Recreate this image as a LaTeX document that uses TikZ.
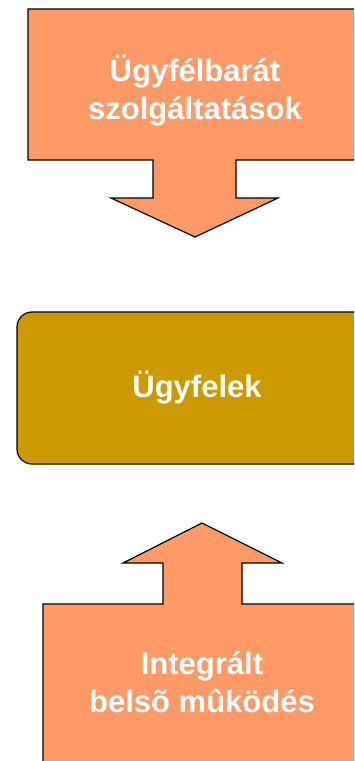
\documentclass[tikz,border=0pt]{standalone}
\usepackage{fontspec}
\setmainfont{Liberation Sans}
\usepackage{tikz}

\definecolor{salmon}{RGB}{255,153,102}
\definecolor{gold}{RGB}{204,153,0}

\begin{document}
\begin{tikzpicture}[
  x=1pt, y=-1pt,
  bshape/.style={draw=black,fill=salmon,line width=1.2pt,line join=miter},
  cbox/.style={draw=black,fill=gold,line width=1.2pt,rounded corners=15pt,
    minimum width=360pt,minimum height=152pt,inner sep=0pt},
  lbl/.style={text=white,font=\bfseries\fontsize{31}{37.5}\selectfont,
    align=center,inner sep=0pt}
]
  \useasboundingbox (0,0) rectangle (354,761);
  \clip (0,0) rectangle (354,761);

  % services
  \draw[bshape] (28,9) -- (370,9) -- (370,160) -- (236,160) -- (236,198)
    -- (278,198) -- (195,237) -- (111,198) -- (153,198) -- (153,160)
    -- (28,160) -- cycle;
  \node[lbl,anchor=base] (srv) at (195,119) {Ügyfélbarát\\szolgáltatások};

  % customers
  \node[cbox] (cust) at (197,388) {};
  \node[lbl] (custtxt) at (cust.center) {Ügyfelek};

  % operation
  \draw[bshape] (43,780) -- (43,604) -- (163,604) -- (163,563) -- (123,563)
    -- (202,523) -- (282,563) -- (242,563) -- (242,604) -- (370,604)
    -- (370,780) -- cycle;
  \node[lbl,anchor=base] (ops) at (202,712) {Integrált\\belsõ mûködés};
\end{tikzpicture}
\end{document}
